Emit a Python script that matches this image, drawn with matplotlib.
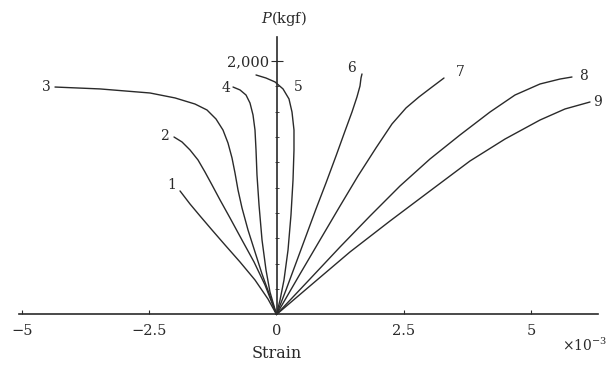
import matplotlib
matplotlib.use("Agg")
import matplotlib.pyplot as plt
from matplotlib.ticker import FixedLocator

plt.rcParams['font.family'] = ['DejaVu Serif']
plt.rcParams['mathtext.fontset'] = 'dejavuserif'

# strain (x10^-3) and load P (kgf) for each curve
s1 = [-1.893, -1.697, -1.501, -1.265, -1.010, -0.716, -0.422, -0.167, 0]
p1 = [974, 871, 777, 666, 548, 414, 272, 122, 0]

s2 = [-2.011, -1.854, -1.697, -1.540, -1.403, -1.265, -1.108, -0.912, -0.677, -0.441, -0.226, 0]
p2 = [1399, 1360, 1297, 1218, 1123, 1021, 903, 761, 587, 414, 233, 0]

s3 = [-4.346, -3.463, -2.482, -1.991, -1.599, -1.364, -1.187, -1.050, -0.952, -0.873, -0.814,
      -0.755, -0.677, -0.559, -0.422, -0.284, -0.128, 0]
p3 = [1793, 1778, 1746, 1707, 1659, 1612, 1541, 1454, 1352, 1234, 1115,
      981, 840, 666, 493, 319, 146, 0]

s4 = [-0.853, -0.716, -0.598, -0.520, -0.461, -0.422, -0.402, -0.383, -0.343, -0.284, -0.206, -0.128, 0]
p4 = [1793, 1770, 1730, 1667, 1573, 1454, 1297, 1100, 863, 587, 351, 177, 0]

s5 = [-0.402, -0.206, -0.029, 0.128, 0.245, 0.304, 0.343, 0.343, 0.324, 0.284, 0.226, 0.147, 0.069, 0]
p5 = [1888, 1864, 1833, 1778, 1699, 1596, 1454, 1297, 1060, 784, 508, 272, 114, 0]

s6 = [1.677, 1.658, 1.638, 1.579, 1.481, 1.344, 1.167, 0.971, 0.775, 0.579, 0.383, 0.186, 0]
p6 = [1896, 1864, 1801, 1715, 1596, 1446, 1249, 1037, 832, 619, 406, 193, 0]

s7 = [3.286, 3.051, 2.796, 2.541, 2.266, 1.952, 1.599, 1.246, 0.853, 0.461, 0]
p7 = [1864, 1793, 1715, 1628, 1502, 1313, 1092, 855, 587, 319, 0]

s8 = [5.797, 5.562, 5.170, 4.679, 4.189, 3.600, 3.012, 2.423, 1.834, 1.246, 0.657, 0]
p8 = [1872, 1856, 1817, 1730, 1596, 1415, 1226, 1013, 776, 532, 280, 0]

s9 = [6.151, 5.660, 5.170, 4.483, 3.796, 3.012, 2.227, 1.442, 0.657, 0]
p9 = [1675, 1620, 1533, 1383, 1210, 974, 737, 493, 225, 0]

curve_names = ['1', '2', '3', '4', '5', '6', '7', '8', '9']
label_s = [-2.05, -2.19, -4.52, -0.99, 0.42, 1.48, 3.60, 6.02, 6.30]
label_p = [1020, 1407, 1793, 1785, 1793, 1943, 1911, 1880, 1675]

x_ticks = [-5, -2.5, 0, 2.5, 5]
x_tick_labels = ['\u22125', '\u22122.5', '0', '2.5', '5']
y_ticks = [2000]
y_tick_labels = ['2,000']
y_minor = [200, 400, 600, 800, 1000, 1200, 1400, 1600, 1800]

fig = plt.figure(figsize=(6.08, 3.66), dpi=100)
ax = fig.add_axes([0, 0, 1, 1])
ax.set_xlim(-5.425, 6.504)
ax.set_ylim(-406, 2479)

ink = '#2a2a2a'
for s, p in [(s1, p1), (s2, p2), (s3, p3), (s4, p4), (s5, p5),
             (s6, p6), (s7, p7), (s8, p8), (s9, p9)]:
    ax.plot(s, p, color=ink, lw=1.0, solid_joinstyle='round', solid_capstyle='round')

for name, ls, lp in zip(curve_names, label_s, label_p):
    ax.text(ls, lp, name, ha='center', va='center', fontsize=10, color=ink)

for side in ['top', 'right']:
    ax.spines[side].set_visible(False)
ax.spines['left'].set_position(('data', 0))
ax.spines['bottom'].set_position(('data', 0))
ax.spines['left'].set_bounds(0, 2187)
ax.spines['bottom'].set_bounds(-5.05, 6.3)
for side in ['left', 'bottom']:
    ax.spines[side].set_color(ink)
    ax.spines[side].set_linewidth(1.2)

ax.set_xticks(x_ticks)
ax.set_xticklabels(x_tick_labels)
ax.tick_params(axis='x', direction='in', length=3, width=0.8, colors=ink,
               labelsize=10.5, pad=7)
ax.set_yticks(y_ticks)
ax.set_yticklabels(y_tick_labels)
ax.tick_params(axis='y', direction='inout', length=8, width=0.8, colors=ink,
               labelsize=10.5, pad=1)
ax.yaxis.set_minor_locator(FixedLocator(y_minor))
ax.tick_params(axis='y', which='minor', direction='inout', length=3, width=0.6, colors=ink)

ax.text(0, -311, 'Strain', ha='center', va='center', fontsize=11.5, color=ink)
ax.text(6.05, -240, r'$\times\mathregular{10^{-3}}$', ha='center', va='center', fontsize=10, color=ink)
ax.text(0.15, 2330, r'$P$(kgf)', ha='center', va='center', fontsize=10.5, color=ink)

fig.savefig('out.png', dpi=100)
